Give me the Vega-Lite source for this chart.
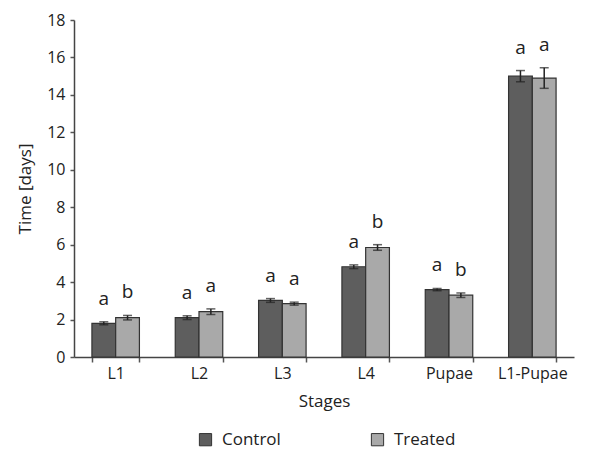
{
  "$schema": "https://vega.github.io/schema/vega-lite/v6.json",
  "width": 500,
  "height": 337,
  "autosize": {"type": "none"},
  "padding": {"left": 74, "top": 20, "right": 17, "bottom": 93},
  "background": "white",
  "config": {
    "view": {"stroke": null},
    "font": "Open Sans",
    "axis": {"domainColor": "#444", "tickColor": "#555", "domainWidth": 1.5, "tickWidth": 1.5, "labelColor": "#222", "titleColor": "#222", "grid": false, "labelFont": "Open Sans", "titleFont": "Open Sans", "titleFontWeight": "normal"},
    "axisY": {"title": "Time [days]", "values": [0, 2, 4, 6, 8, 10, 12, 14, 16, 18], "labelOverlap": false, "labelFontSize": 16, "titleFontSize": 17, "titlePadding": 12, "tickSize": 4, "labelPadding": 5}
  },
  "data": {
    "values": [
      {"stage": "L1", "group": "Control", "time": 1.8, "lo": 1.72, "hi": 1.88, "sig": "a"},
      {"stage": "L1", "group": "Treated", "time": 2.1, "lo": 1.98, "hi": 2.22, "sig": "b"},
      {"stage": "L2", "group": "Control", "time": 2.1, "lo": 2.0, "hi": 2.2, "sig": "a"},
      {"stage": "L2", "group": "Treated", "time": 2.42, "lo": 2.27, "hi": 2.57, "sig": "a"},
      {"stage": "L3", "group": "Control", "time": 3.02, "lo": 2.92, "hi": 3.12, "sig": "a"},
      {"stage": "L3", "group": "Treated", "time": 2.85, "lo": 2.77, "hi": 2.93, "sig": "a"},
      {"stage": "L4", "group": "Control", "time": 4.82, "lo": 4.72, "hi": 4.92, "sig": "a"},
      {"stage": "L4", "group": "Treated", "time": 5.85, "lo": 5.7, "hi": 6.0, "sig": "b"},
      {"stage": "Pupae", "group": "Control", "time": 3.6, "lo": 3.54, "hi": 3.66, "sig": "a"},
      {"stage": "Pupae", "group": "Treated", "time": 3.3, "lo": 3.18, "hi": 3.42, "sig": "b"},
      {"stage": "L1-Pupae", "group": "Control", "time": 15.0, "lo": 14.7, "hi": 15.3, "sig": "a"},
      {"stage": "L1-Pupae", "group": "Treated", "time": 14.9, "lo": 14.35, "hi": 15.45, "sig": "a"}
    ]
  },
  "encoding": {
    "x": {
      "field": "stage", "type": "nominal",
      "sort": ["L1", "L2", "L3", "L4", "Pupae", "L1-Pupae"],
      "scale": {"paddingInner": 0.43, "paddingOuter": 0.215},
      "axis": {"title": "Stages", "labelAngle": 0, "labelFontSize": 16, "titleFontSize": 17, "titlePadding": 12, "tickBand": "extent", "tickSize": 5, "labelPadding": 3}
    },
    "xOffset": {"field": "group", "type": "nominal", "sort": ["Control", "Treated"]}
  },
  "layer": [
    {
      "mark": {"type": "bar", "stroke": "#333", "strokeWidth": 1.2},
      "encoding": {
        "y": {
          "field": "time", "type": "quantitative",
          "scale": {"domain": [0, 18], "nice": false},
          "title": "Time [days]"
        },
        "color": {
          "field": "group", "type": "nominal",
          "scale": {"domain": ["Control", "Treated"], "range": ["#5e5e5e", "#a9a9a9"]},
          "legend": {"title": null, "orient": "none", "direction": "horizontal", "legendX": 123, "legendY": 411, "symbolType": "square", "symbolSize": 150, "symbolStrokeColor": "#333", "symbolStrokeWidth": 1, "labelFontSize": 17, "labelColor": "#222", "columnPadding": 88, "labelOffset": 8}
        }
      }
    },
    {
      "mark": {"type": "rule", "color": "#222", "strokeWidth": 1.5},
      "encoding": {"y": {"field": "lo", "type": "quantitative", "title": "Time [days]"}, "y2": {"field": "hi"}}
    },
    {
      "mark": {"type": "tick", "color": "#222", "thickness": 1.5, "size": 9, "orient": "horizontal"},
      "encoding": {"y": {"field": "lo", "type": "quantitative", "title": "Time [days]"}}
    },
    {
      "mark": {"type": "tick", "color": "#222", "thickness": 1.5, "size": 9, "orient": "horizontal"},
      "encoding": {"y": {"field": "hi", "type": "quantitative", "title": "Time [days]"}}
    },
    {
      "mark": {"type": "text", "baseline": "bottom", "dy": -13, "fontSize": 19, "color": "#222"},
      "encoding": {"y": {"field": "hi", "type": "quantitative", "title": "Time [days]"}, "text": {"field": "sig"}}
    }
  ]
}
